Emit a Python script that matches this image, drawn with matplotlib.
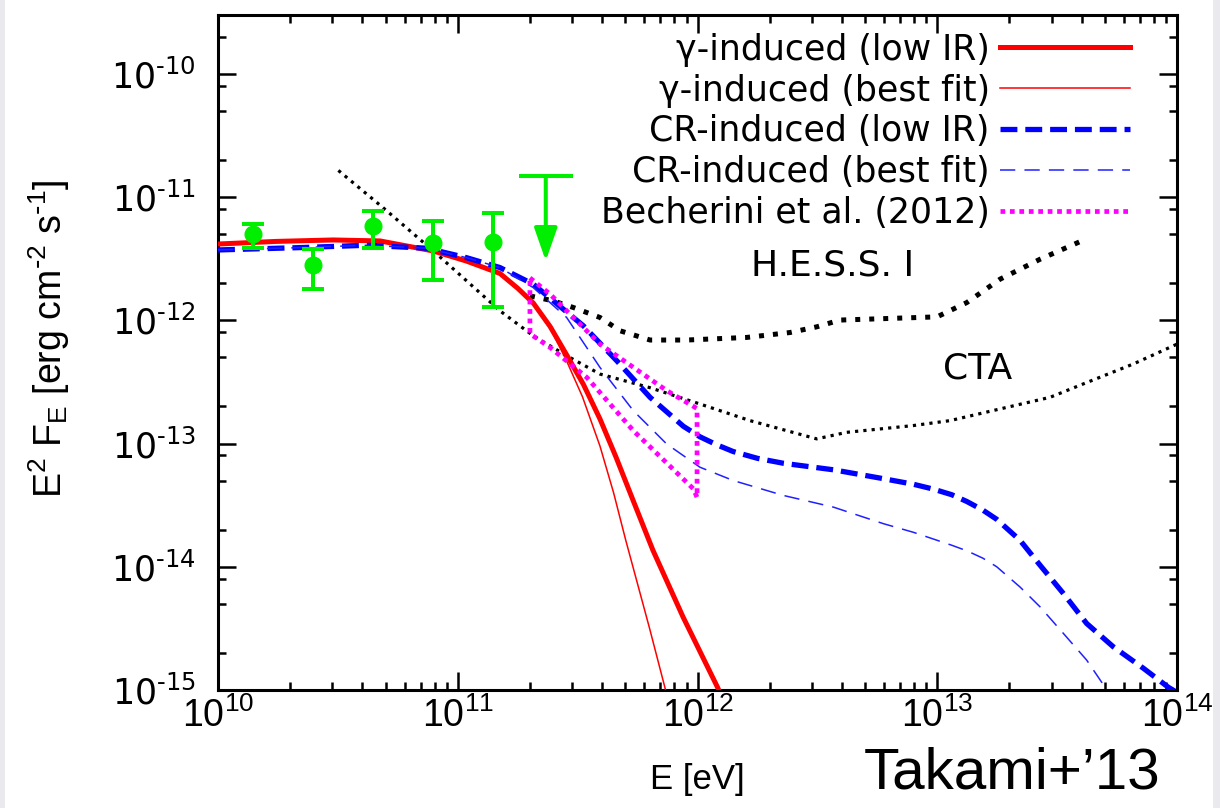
#!/usr/bin/env python3
"""E^2 F_E spectrum: gamma- and CR-induced cascade models vs LAT data and IACT sensitivities."""

import numpy as np
import matplotlib
matplotlib.use("Agg")
import matplotlib.pyplot as plt
from matplotlib.patches import Rectangle
from matplotlib.ticker import FixedLocator, LogLocator, FuncFormatter, NullFormatter

plt.rcParams["font.family"] = ["DejaVu Sans"]
plt.rcParams["mathtext.default"] = "regular"
plt.rcParams["axes.unicode_minus"] = False

NARROW = ["Liberation Sans Narrow", "Liberation Sans", "DejaVu Sans"]

# all values are log10(E / eV) and log10(E^2 F_E / erg cm^-2 s^-1)

# decade ticks
x_tick_exp = [10, 11, 12, 13, 14]
y_tick_exp = [-15, -14, -13, -12, -11, -10]

# Fermi-LAT points
lat_loge = [10.147, 10.398, 10.648, 10.898, 11.148]
lat_logf = [-11.302, -11.551, -11.235, -11.370, -11.362]
lat_logf_hi = [-11.221, -11.424, -11.113, -11.194, -11.127]
lat_logf_lo = [-11.410, -11.743, -11.410, -11.675, -11.888]

# LAT upper limit
ul_loge = 11.367
ul_logf = -10.830
ul_logtip = -11.518

# gamma-induced cascade, low IR
gam_low_loge = [10.0, 10.24, 10.48, 10.676, 10.897, 11.037, 11.176, 11.25, 11.315, 11.385,
                11.454, 11.524, 11.593, 11.66, 11.731, 11.814, 11.94, 12.085, 12.15]
gam_low_logf = [-11.381, -11.36, -11.348, -11.356, -11.437, -11.52, -11.62, -11.74, -11.86, -12.05,
                -12.28, -12.52, -12.80, -13.11, -13.46, -13.866, -14.409, -14.984, -15.3]

# gamma-induced cascade, best fit
gam_fit_loge = [10.0, 10.24, 10.48, 10.676, 10.897, 11.037, 11.176, 11.25, 11.315, 11.385,
                11.454, 11.52, 11.593, 11.65, 11.70, 11.80, 11.864, 11.90]
gam_fit_logf = [-11.381, -11.36, -11.348, -11.356, -11.437, -11.52, -11.62, -11.74, -11.86, -12.06,
                -12.33, -12.62, -13.02, -13.40, -13.78, -14.50, -14.98, -15.26]

# CR-induced cascade, low IR
cr_low_loge = [10.0, 10.342, 10.62, 10.87, 11.037, 11.176, 11.315, 11.524, 11.663, 11.802,
               11.941, 12.010, 12.08, 12.149, 12.25, 12.358, 12.567, 12.775, 12.90, 12.984,
               13.06, 13.123, 13.19, 13.248, 13.345, 13.429, 13.526, 13.623, 13.734, 13.860,
               13.964, 14.0]
cr_low_logf = [-11.429, -11.410, -11.391, -11.415, -11.492, -11.572, -11.707, -12.045, -12.328,
               -12.625, -12.86, -12.945, -13.01, -13.065, -13.12, -13.160, -13.213, -13.285,
               -13.33, -13.37, -13.415, -13.47, -13.54, -13.615, -13.785, -13.988, -14.217,
               -14.46, -14.649, -14.824, -14.978, -15.02]

# CR-induced cascade, best fit
cr_fit_loge = [10.0, 10.342, 10.62, 10.87, 11.037, 11.176, 11.315, 11.454, 11.593, 11.732,
               11.871, 12.010, 12.149, 12.358, 12.567, 12.775, 12.90, 12.984, 13.06, 13.123,
               13.19, 13.248, 13.345, 13.429, 13.526, 13.623, 13.700, 13.74]
cr_fit_logf = [-11.429, -11.410, -11.391, -11.415, -11.492, -11.572, -11.735, -11.977, -12.382,
               -12.733, -13.003, -13.192, -13.300, -13.421, -13.516, -13.650, -13.72, -13.775,
               -13.825, -13.87, -13.93, -14.0, -14.164, -14.326, -14.541, -14.757, -14.978, -15.08]

# Becherini et al. (2012) butterfly
bow_up_loge = [11.301, 11.385, 11.593, 11.872, 11.998]
bow_up_logf = [-11.656, -11.788, -12.193, -12.571, -12.716]
bow_lo_loge = [11.301, 11.385, 11.538, 11.732, 11.983, 11.998]
bow_lo_logf = [-12.109, -12.220, -12.463, -12.895, -13.368, -13.437]

# H.E.S.S. I sensitivity
hess_loge = [11.301, 11.398, 11.482, 11.593, 11.677, 11.802, 11.955, 12.205, 12.386, 12.497,
             12.594, 12.845, 12.999, 13.123, 13.262, 13.429, 13.595]
hess_logf = [-11.802, -11.842, -11.896, -11.977, -12.085, -12.160, -12.160, -12.139, -12.099,
             -12.053, -11.998, -11.982, -11.972, -11.856, -11.666, -11.504, -11.362]

# CTA sensitivity
cta_loge = [10.502, 10.689, 10.898, 11.037, 11.176, 11.315, 11.454, 11.593, 11.802, 12.010,
            12.219, 12.497, 12.622, 12.900, 13.053, 13.262, 13.470, 13.609, 13.818, 14.0]
cta_logf = [-10.784, -11.087, -11.437, -11.680, -11.923, -12.126, -12.287, -12.436, -12.547,
            -12.679, -12.814, -12.962, -12.909, -12.854, -12.814, -12.719, -12.625, -12.516,
            -12.354, -12.193]

legend_labels = ["\u03b3-induced (low IR)", "\u03b3-induced (best fit)",
                 "CR-induced (low IR)", "CR-induced (best fit)", "Becherini et al. (2012)"]


def p10(v):
    return np.power(10.0, np.asarray(v, dtype=float))


def pow10_label(v, pos):
    # gnuplot-style exponent with a short hyphen instead of a minus sign
    e = int(round(np.log10(v)))
    if e < 0:
        return r"$\mathdefault{10^{\text{-}%d}}$" % (-e)
    return r"$\mathdefault{10^{%d}}$" % e


GREEN = "#00ee00"

fig = plt.figure(figsize=(12.2, 8.08), dpi=100)
fig.patch.set_facecolor("white")
# pale slide margins at both sides
fig.patches.append(Rectangle((0, 0), 0.004, 1, transform=fig.transFigure,
                             facecolor="#e9e9ee", edgecolor="none"))
fig.patches.append(Rectangle((0.994, 0), 0.006, 1, transform=fig.transFigure,
                             facecolor="#e9e9ee", edgecolor="none"))

ax = fig.add_axes([0.1787, 0.1460, 0.7861, 0.8354])

# model curves
ax.plot(p10(gam_low_loge), p10(gam_low_logf), color="#ff0000", lw=3.6,
        label=legend_labels[0], zorder=4)
ax.plot(p10(gam_fit_loge), p10(gam_fit_logf), color="#ff0000", lw=1.1,
        label=legend_labels[1], zorder=4)
ax.plot(p10(cr_low_loge), p10(cr_low_logf), color="#0000ff", lw=3.8,
        ls=(0, (3.2, 1.5)), label=legend_labels[2], zorder=4)
ax.plot(p10(cr_fit_loge), p10(cr_fit_logf), color="#2020ff", lw=1.1,
        ls=(0, (10, 6)), label=legend_labels[3], zorder=4)

# butterfly outline: upper edge out, lower edge back
bow_e = np.concatenate([p10(bow_up_loge), p10(bow_lo_loge)[::-1], p10(bow_up_loge[:1])])
bow_f = np.concatenate([p10(bow_up_logf), p10(bow_lo_logf)[::-1], p10(bow_up_logf[:1])])
ax.plot(bow_e, bow_f, color="#ff00ff", lw=3.4, ls=(0, (1, 1)),
        label=legend_labels[4], zorder=5)

# instrument sensitivities
ax.plot(p10(hess_loge), p10(hess_logf), color="black", lw=3.6, ls=(0, (1, 1.8)), zorder=3)
ax.plot(p10(cta_loge), p10(cta_logf), color="black", lw=2.3, ls=(0, (1, 1.6)), zorder=3)

# LAT data
lat_f = p10(lat_logf)
yerr = [lat_f - p10(lat_logf_lo), p10(lat_logf_hi) - lat_f]
ax.errorbar(p10(lat_loge), lat_f, yerr=yerr, fmt="o", color=GREEN, ms=12,
            elinewidth=2.9, capsize=8, capthick=2.9, zorder=6)

# upper limit: cap plus downward arrow
ax.plot([10 ** ul_loge], [10 ** ul_logf], marker="_", ms=39, mew=2.9, color=GREEN, zorder=6)
ax.annotate("", xy=(10 ** ul_loge, 10 ** ul_logtip), xytext=(10 ** ul_loge, 10 ** ul_logf),
            arrowprops=dict(arrowstyle="-|>,head_length=2.0,head_width=0.7", color=GREEN,
                            lw=2.9, shrinkA=0, shrinkB=0),
            zorder=6)

ax.text(3.64e12, 2.76e-12, "H.E.S.S. I", fontsize=26, ha="center", va="center")
ax.text(1.47e13, 4.05e-13, "CTA", fontsize=26, ha="center", va="center")

# axes
ax.set_xscale("log")
ax.set_yscale("log")
ax.set_xlim(1e10, 1e14)
ax.set_ylim(1e-15, 3e-10)

ax.xaxis.set_major_locator(FixedLocator(p10(x_tick_exp)))
ax.xaxis.set_minor_locator(LogLocator(base=10, subs=np.arange(2, 10), numticks=20))
ax.yaxis.set_major_locator(FixedLocator(p10(y_tick_exp)))
ax.yaxis.set_minor_locator(LogLocator(base=10, subs=(2, 5, 8), numticks=20))
ax.xaxis.set_major_formatter(FuncFormatter(pow10_label))
ax.yaxis.set_major_formatter(FuncFormatter(pow10_label))
ax.xaxis.set_minor_formatter(NullFormatter())
ax.yaxis.set_minor_formatter(NullFormatter())

ax.tick_params(which="both", direction="in", top=True, right=True, width=1.8)
ax.tick_params(which="major", length=13)
ax.tick_params(which="minor", length=6)
ax.tick_params(axis="y", which="major", pad=16, labelsize=25)
ax.tick_params(axis="x", which="major", pad=5, labelsize=27)
for spine in ax.spines.values():
    spine.set_linewidth(2.2)

plt.setp(ax.get_xticklabels(), family=NARROW)

ax.set_xlabel("E [eV]", fontsize=25, family=NARROW)
ax.xaxis.set_label_coords(0.5, -0.108)
ax.set_ylabel(r"E$^2$ F$_E$ [erg cm$^{\text{-}2}$ s$^{\text{-}1}$]", fontsize=27, family=NARROW)
ax.yaxis.set_label_coords(-0.152, 0.52)

ax.legend(loc="upper right", bbox_to_anchor=(0.951, 0.974), frameon=False,
          markerfirst=False, fontsize=25, handlelength=3.75, handletextpad=0.29,
          labelspacing=0.2, borderpad=0, borderaxespad=0)

fig.text(0.951, 0.043, "Takami+\u201913", fontsize=42, family=NARROW,
         ha="right", va="center")

fig.savefig("out.png", dpi=100)
